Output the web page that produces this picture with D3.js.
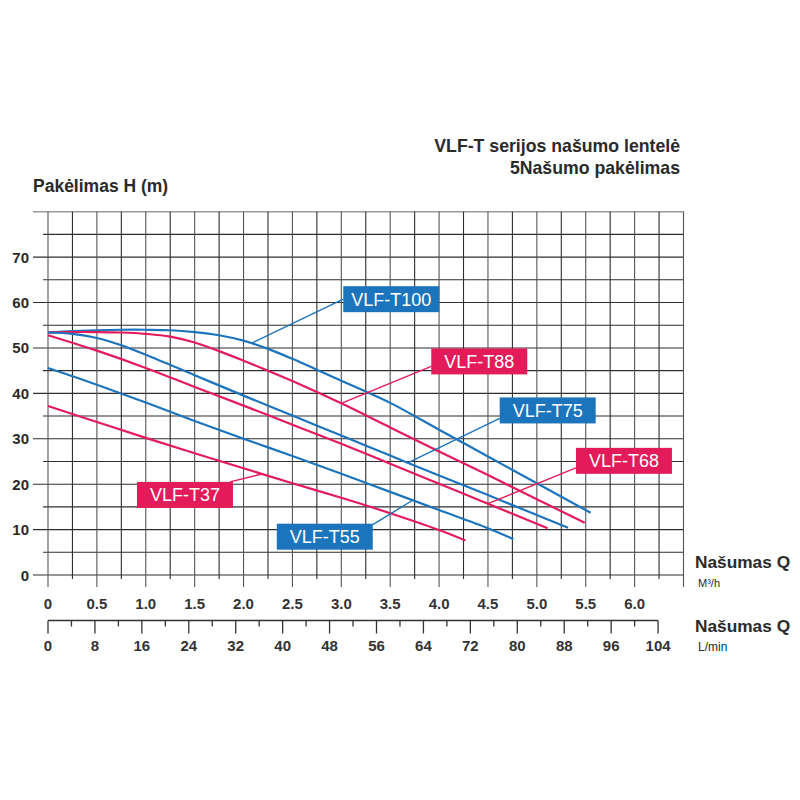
<!DOCTYPE html>
<html>
<head>
<meta charset="utf-8">
<script src="https://cdn.jsdelivr.net/npm/d3@7"></script>
<style>
  html, body { margin: 0; padding: 0; background: #fff; }
  svg { display: block; }
</style>
</head>
<body>
<svg id="chart" width="800" height="800"></svg>
<script>
// ---------- Data ----------
const titleLines = ["VLF-T serijos našumo lentelė", "5Našumo pakėlimas"];
const yAxisTitle = "Pakėlimas H (m)";
const xAxisTitle = "Našumas Q";
const unitM3 = "M³/h";
const unitLmin = "L/min";

const yTicks = [0, 10, 20, 30, 40, 50, 60, 70];
const xTicksM3 = ["0", "0.5", "1.0", "1.5", "2.0", "2.5", "3.0", "3.5", "4.0", "4.5", "5.0", "5.5", "6.0"];
const xTicksLmin = [0, 8, 16, 24, 32, 40, 48, 56, 64, 72, 80, 88, 96, 104];

const seriesNames = ["VLF-T100", "VLF-T88", "VLF-T75", "VLF-T68", "VLF-T55", "VLF-T37"];
const seriesColors = ["blue", "red", "blue", "red", "blue", "red"];

// flow Q (m3/h) and head H (m) for each pump curve
const qT100 = [0, 0.25, 0.5, 0.75, 1.0, 1.25, 1.5, 1.75, 2.0, 2.25, 2.5, 2.75, 3.0, 3.25, 3.5, 4.0, 4.5, 5.0, 5.55];
const hT100 = [53.4, 53.7, 53.9, 54.0, 54.0, 53.9, 53.5, 52.8, 51.6, 49.8, 47.6, 45.2, 42.8, 40.4, 37.9, 32.0, 26.1, 20.2, 13.7];

const qT88 = [0, 0.25, 0.5, 0.75, 1.0, 1.25, 1.5, 1.75, 2.0, 2.25, 2.5, 2.75, 3.0, 3.5, 4.0, 4.5, 5.0, 5.49];
const hT88 = [53.4, 53.5, 53.5, 53.4, 53.1, 52.5, 51.2, 49.3, 47.2, 45.0, 42.7, 40.3, 37.8, 32.5, 27.2, 22.0, 16.7, 11.5];

const qT75 = [0, 0.25, 0.5, 0.75, 1.0, 1.5, 2.0, 2.5, 3.0, 3.5, 4.0, 4.5, 5.0, 5.32];
const hT75 = [53.4, 53.1, 52.2, 50.6, 48.5, 44.0, 39.5, 35.1, 30.7, 26.3, 21.9, 17.6, 13.2, 10.4];

const qT68 = [0, 0.5, 1.0, 1.5, 2.0, 2.5, 3.0, 3.5, 4.0, 4.5, 5.11];
const hT68 = [52.8, 49.4, 45.6, 41.4, 37.3, 33.1, 28.9, 24.5, 20.1, 15.7, 10.3];

const qT55 = [0, 0.5, 1.0, 1.5, 2.0, 2.5, 3.0, 3.5, 4.0, 4.5, 4.76];
const hT55 = [45.6, 41.9, 38.0, 33.9, 30.0, 26.2, 22.3, 18.3, 14.3, 10.3, 7.9];

const qT37 = [0, 0.5, 1.0, 1.5, 2.0, 2.5, 3.0, 3.5, 4.0, 4.27];
const hT37 = [37.2, 33.7, 30.2, 26.8, 23.5, 20.2, 17.0, 13.6, 9.9, 7.6];

const seriesQ = [qT100, qT88, qT75, qT68, qT55, qT37];
const seriesH = [hT100, hT88, hT75, hT68, hT55, hT37];

// ---------- Layout / style ----------
const COLORS = { blue: "#1c74bc", red: "#e41b5b" };
const plotLeft = 48, plotRight = 683.5, plotTop = 211.7, plotBottom = 575;
const xMax = 6.5, yMax = 80;

// label boxes: top-left in data units, leader start offset (px) from box top-left, leader tip Q on curve
const labelLayout = [
  { boxQ: 3.02, boxH: 63.6, dx: 0, dy: 13, tipQ: 2.08 },
  { boxQ: 3.92, boxH: 49.9, dx: 0, dy: 18, tipQ: 3.00 },
  { boxQ: 4.62, boxH: 39.1, dx: 0, dy: 21, tipQ: 3.68 },
  { boxQ: 5.40, boxH: 28.0, dx: 0, dy: 20, tipQ: 4.50 },
  { boxQ: 2.34, boxH: 11.3, dx: 96, dy: 1, tipQ: 3.73 },
  { boxQ: 0.91, boxH: 20.5, dx: 93, dy: 0, tipQ: 2.19 }
];
const boxW = 96, boxH = 26;

const svg = d3.select("#chart");
const x = d3.scaleLinear().domain([0, xMax]).range([plotLeft, plotRight]);
const y = d3.scaleLinear().domain([0, yMax]).range([plotBottom, plotTop]);
const lpmMax = xMax * 1000 / 60;
const xL = d3.scaleLinear().domain([0, lpmMax]).range([plotLeft, plotRight]);

const textFont = "'Liberation Sans', Arial, Helvetica, sans-serif";

// ---------- Titles ----------
svg.selectAll("text.title").data(titleLines).enter().append("text")
  .attr("class", "title")
  .attr("x", 680).attr("y", (d, i) => 152 + i * 21.5)
  .attr("text-anchor", "end")
  .attr("font-family", textFont).attr("font-weight", "bold")
  .attr("font-size", 17.7).attr("fill", "#2a2a2a")
  .text(d => d);

svg.append("text")
  .attr("x", 33).attr("y", 191.5)
  .attr("font-family", textFont).attr("font-weight", "bold")
  .attr("font-size", 17.5).attr("fill", "#2a2a2a")
  .text(yAxisTitle);

// ---------- Grid ----------
const grid = svg.append("g");
const hVals = d3.range(0, yMax + 0.001, 5);
grid.selectAll("line.h").data(hVals).enter().append("line")
  .attr("x1", d => (d % 10 === 0) ? 33 : 43)
  .attr("x2", plotRight + 0.5)
  .attr("y1", d => y(d)).attr("y2", d => y(d))
  .attr("stroke", d => d === yMax ? "#9a9a9a" : "#2e2e2e")
  .attr("stroke-width", d => d === yMax ? 1.6 : 1.1);

const vVals = d3.range(0, xMax + 0.001, 0.25);
grid.selectAll("line.v").data(vVals).enter().append("line")
  .attr("x1", d => x(d)).attr("x2", d => x(d))
  .attr("y1", plotTop)
  .attr("y2", d => (Math.abs(d * 2 - Math.round(d * 2)) < 1e-6) ? 587 : 579)
  .attr("stroke", (d, i) => (i % 2 === 0) ? "#555" : "#2e2e2e")
  .attr("stroke-width", 1.1);

// ---------- Y tick labels ----------
svg.selectAll("text.ytick").data(yTicks).enter().append("text")
  .attr("x", 29).attr("y", d => y(d) + 5.5)
  .attr("text-anchor", "end")
  .attr("font-family", textFont).attr("font-weight", "bold")
  .attr("font-size", 15).attr("fill", "#2a2a2a")
  .text(d => d);

// ---------- X tick labels (m3/h) ----------
svg.selectAll("text.xtick").data(xTicksM3).enter().append("text")
  .attr("x", d => x(+d)).attr("y", 608.5)
  .attr("text-anchor", "middle")
  .attr("font-family", textFont).attr("font-weight", "bold")
  .attr("font-size", 15).attr("fill", "#333")
  .text(d => d);

// ---------- L/min axis ----------
const axisY = 620.5;
svg.append("line")
  .attr("x1", xL(0)).attr("x2", xL(104))
  .attr("y1", axisY).attr("y2", axisY)
  .attr("stroke", "#333").attr("stroke-width", 1.3);
const lTicks = d3.range(0, 104.001, 4);
svg.selectAll("line.lt").data(lTicks).enter().append("line")
  .attr("x1", d => xL(d)).attr("x2", d => xL(d))
  .attr("y1", axisY).attr("y2", d => (d % 8 === 0) ? axisY + 13 : axisY + 6)
  .attr("stroke", "#333").attr("stroke-width", 1.3);
svg.selectAll("text.lt").data(xTicksLmin).enter().append("text")
  .attr("x", d => xL(d)).attr("y", 651)
  .attr("text-anchor", "middle")
  .attr("font-family", textFont).attr("font-weight", "bold")
  .attr("font-size", 15).attr("fill", "#333")
  .text(d => d);

// ---------- Axis titles on the right ----------
[[568, unitM3, 587, 11], [632, unitLmin, 651, 12]].forEach(([ty, unit, uy, us]) => {
  svg.append("text").attr("x", 695).attr("y", ty)
    .attr("font-family", textFont).attr("font-weight", "bold")
    .attr("font-size", 17.3).attr("fill", "#2a2a2a").text(xAxisTitle);
  svg.append("text").attr("x", 698).attr("y", uy)
    .attr("font-family", textFont)
    .attr("font-size", us).attr("fill", "#2a2a2a").text(unit);
});

// ---------- Curves ----------
const line = d3.line().x(d => x(d[0])).y(d => y(d[1])).curve(d3.curveCatmullRom.alpha(0.5));
const curves = seriesNames.map((n, i) => ({
  name: n,
  color: COLORS[seriesColors[i]],
  pts: seriesQ[i].map((q, j) => [q, seriesH[i][j]])
}));

svg.append("g").selectAll("path").data(curves).enter().append("path")
  .attr("d", d => line(d.pts))
  .attr("fill", "none")
  .attr("stroke", d => d.color)
  .attr("stroke-width", 2.2)
  .attr("stroke-linecap", "butt");

// ---------- Labels with leaders ----------
function headAt(pts, q) {
  for (let k = 0; k < pts.length - 1; k++) {
    if (q >= pts[k][0] && q <= pts[k + 1][0]) {
      const t = (q - pts[k][0]) / (pts[k + 1][0] - pts[k][0]);
      return pts[k][1] + t * (pts[k + 1][1] - pts[k][1]);
    }
  }
  return pts[pts.length - 1][1];
}

const lab = svg.append("g");
curves.forEach((c, i) => {
  const L = labelLayout[i];
  const bx = x(L.boxQ), by = y(L.boxH);
  lab.append("line")
    .attr("x1", bx + L.dx).attr("y1", by + L.dy)
    .attr("x2", x(L.tipQ)).attr("y2", y(headAt(c.pts, L.tipQ)))
    .attr("stroke", c.color).attr("stroke-width", 1.4);
  lab.append("rect")
    .attr("x", bx).attr("y", by).attr("width", boxW).attr("height", boxH)
    .attr("fill", c.color);
  lab.append("text")
    .attr("x", bx + boxW / 2).attr("y", by + 19.5)
    .attr("text-anchor", "middle")
    .attr("font-family", textFont)
    .attr("font-size", 18).attr("fill", "#fff")
    .text(c.name);
});
</script>
</body>
</html>
